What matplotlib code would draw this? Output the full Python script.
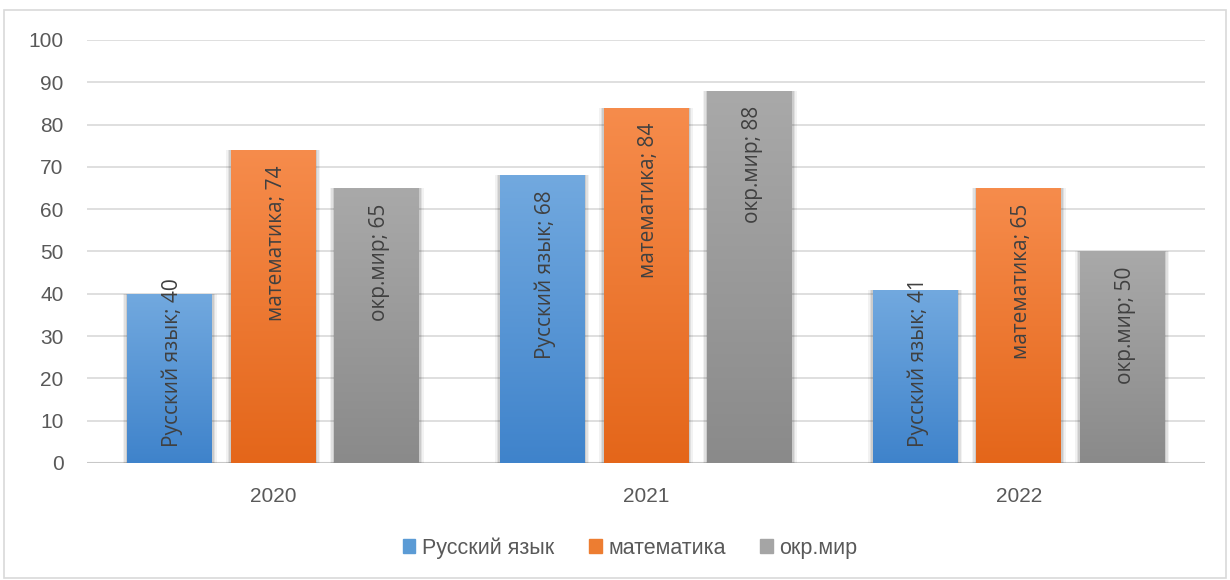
"""Bar chart: results by subject, 2020-2022."""

import matplotlib
matplotlib.use("Agg")
import matplotlib.pyplot as plt
import numpy as np
from matplotlib.colors import LinearSegmentedColormap
from matplotlib.patches import Rectangle

years = ["2020", "2021", "2022"]
subjects = ["Русский язык", "математика", "окр.мир"]
russian = [40, 68, 41]
math = [74, 84, 65]
world = [65, 88, 50]

# (top, bottom) gradient colours per series
colors = [("#72a9df", "#3f83cb"), ("#f68c4c", "#e4661a"), ("#a9a9a9", "#8a8a8a")]
legend_colors = ["#5b9bd5", "#ed7d31", "#a5a5a5"]

plt.rcParams["font.family"] = ["Liberation Sans", "DejaVu Sans"]

fig = plt.figure(figsize=(12.3, 5.8), dpi=100)
fig.patches.append(Rectangle((4 / 1230, 2 / 580), 1222 / 1230, 568 / 580,
                             transform=fig.transFigure, fill=False,
                             edgecolor="#d9d9d9", linewidth=1.2))
ax = fig.add_axes([87 / 1230, 1 - 463 / 580, 1118 / 1230, 423 / 580])

x = np.arange(len(years))
width = 0.228
step = 0.278
series = [russian, math, world]

ax.set_xlim(-0.5, len(years) - 0.5)
ax.set_ylim(0, 100)
ax.set_yticks(range(0, 101, 10))
ax.grid(axis="y", color="#d9d9d9", linewidth=1.2)
ax.set_axisbelow(True)
for s in ax.spines.values():
    s.set_visible(False)
ax.axhline(0, color="#c8c8c8", linewidth=1.5, zorder=1)
ax.tick_params(length=0, labelsize=15, colors="#595959")
ax.tick_params(axis="y", pad=17)
ax.tick_params(axis="x", pad=17)
ax.set_xticks(x)
ax.set_xticklabels(years)

texts = []
for i, (vals, name, (ctop, cbot)) in enumerate(zip(series, subjects, colors)):
    pos = x + (i - 1) * step
    # soft shadow
    for k, a in zip([0.012, 0.008, 0.004], [0.05, 0.07, 0.09]):
        ax.bar(pos, vals, width + 2 * k, color="black", alpha=a,
               linewidth=0, zorder=2)
    bars = ax.bar(pos, vals, width, color=cbot, linewidth=0, zorder=3,
                  label=name)
    cmap = LinearSegmentedColormap.from_list(name, [cbot, ctop])
    grad = np.linspace(0, 1, 256).reshape(-1, 1)
    for b, v in zip(bars, vals):
        im = ax.imshow(grad, extent=(b.get_x(), b.get_x() + width, 0, v),
                       origin="lower", cmap=cmap, aspect="auto", zorder=3.5)
        im.set_clip_path(b)
        t = ax.text(b.get_x() + width / 2 + 0.008, v - 3.6, f"{name}; {v}",
                    rotation=90, ha="center", va="top", fontsize=15,
                    color="#404040", zorder=5,
                    family=["Open Sans", "DejaVu Sans"])
        texts.append(t)

ax.set_xlim(-0.5, len(years) - 0.5)
ax.set_ylim(0, 100)

# keep labels off the baseline, like Excel does for short bars
fig.canvas.draw()
renderer = fig.canvas.get_renderer()
inv = ax.transData.inverted()
for t in texts:
    bb = t.get_window_extent(renderer)
    y0 = inv.transform((0, bb.y0))[1]
    if y0 < 3.8:
        t.set_y(t.get_position()[1] + (3.8 - y0))

handles = [Rectangle((0, 0), 1, 1, color=c) for c in legend_colors]
fig.legend(handles, subjects, loc="center", bbox_to_anchor=(630 / 1230, 1 - 548 / 580),
           ncol=3, frameon=False, fontsize=15.5, handlelength=0.6, handleheight=0.6,
           handletextpad=0.3, columnspacing=1.6, labelcolor="#595959")

fig.savefig("out.png", dpi=100)
